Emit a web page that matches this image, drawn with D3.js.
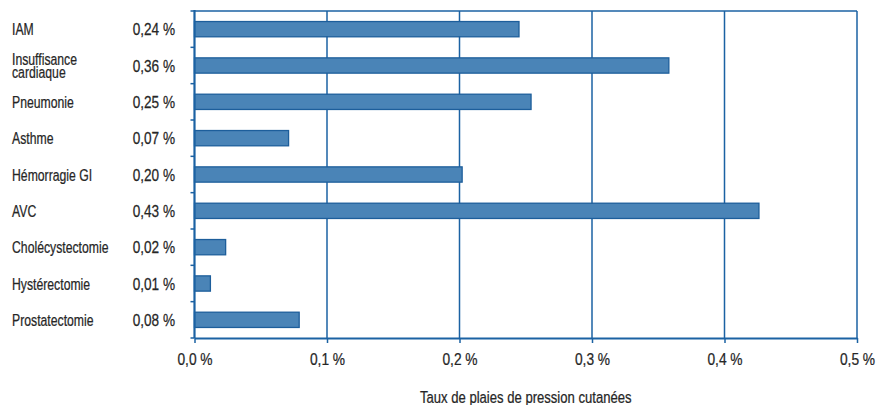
<!DOCTYPE html>
<html>
<head>
<meta charset="utf-8">
<script src="https://cdn.jsdelivr.net/npm/d3@7"></script>
<style>
  html, body { margin: 0; padding: 0; background: #fff; }
  svg text { font-family: "Liberation Sans", Arial, sans-serif; fill: #262626; stroke: #262626; stroke-width: 0.25px; }
</style>
</head>
<body>
<svg id="chart" width="878" height="405"></svg>
<script>
// Pressure-ulcer rates by condition / procedure (%)
const categories = [
  ["IAM"],
  ["Insuffisance", "cardiaque"],
  ["Pneumonie"],
  ["Asthme"],
  ["Hémorragie GI"],
  ["AVC"],
  ["Cholécystectomie"],
  ["Hystérectomie"],
  ["Prostatectomie"]
];
const rates = [0.2449, 0.358, 0.254, 0.071, 0.202, 0.426, 0.0235, 0.012, 0.079];
const tickValues = [0, 0.1, 0.2, 0.3, 0.4, 0.5];
const axisTitle = "Taux de plaies de pression cutanées";

const svg = d3.select("#chart");
const margin = { left: 194.5, right: 21, top: 11, bottom: 67 };
const W = 878, H = 405;
const blue = "#1b62a3";

// horizontally condense text elements around their anchor x
function condense(sel, k) {
  sel.each(function () {
    const t = d3.select(this);
    const ax = +t.attr("x") || 0;
    t.attr("transform", `translate(${ax},0) scale(${k},1) translate(${-ax},0)`);
  });
}

const x = d3.scaleLinear().domain([0, 0.5]).range([margin.left, W - margin.right]);
const y = d3.scaleBand().domain(d3.range(categories.length))
  .range([margin.top, H - margin.bottom]).paddingInner(0.58).paddingOuter(0.29);

const fmt = v => d3.format(".2f")(v).replace(".", ",") + " %";
const fmtTick = v => d3.format(".1f")(v).replace(".", ",") + " %";

// vertical gridlines (including the right edge)
svg.append("g").selectAll("line").data(tickValues.slice(1)).join("line")
  .attr("x1", d => x(d)).attr("x2", d => x(d))
  .attr("y1", margin.top).attr("y2", H - margin.bottom)
  .attr("stroke", blue).attr("stroke-width", 1.5);

// top border
svg.append("line")
  .attr("x1", x(0)).attr("x2", x(0.5))
  .attr("y1", margin.top).attr("y2", margin.top)
  .attr("stroke", blue).attr("stroke-width", 1.5);

// bars
svg.append("g").selectAll("rect").data(rates).join("rect")
  .attr("x", x(0))
  .attr("y", (d, i) => y(i))
  .attr("width", d => x(d) - x(0))
  .attr("height", y.bandwidth())
  .attr("fill", "#4a84b7")
  .attr("stroke", "#1d5e9b")
  .attr("stroke-width", 1.3);

// bottom axis
const xAxis = d3.axisBottom(x).tickValues(tickValues).tickFormat(fmtTick).tickSize(5).tickSizeOuter(0);
const gx = svg.append("g").attr("transform", `translate(0,${H - margin.bottom})`).call(xAxis);
gx.attr("font-family", null).attr("font-size", null);
gx.select(".domain").attr("stroke", blue).attr("stroke-width", 2.2);
gx.selectAll(".tick line").attr("stroke", blue).attr("stroke-width", 1.5);
gx.selectAll(".tick text").attr("font-size", 17).attr("dy", "1.09em").attr("fill", "#262626")
  .call(condense, 0.81);

// left axis line with ticks at band boundaries
const bounds = d3.range(categories.length + 1).map(i => margin.top + (H - margin.bottom - margin.top) * i / categories.length);
svg.append("line")
  .attr("x1", x(0)).attr("x2", x(0))
  .attr("y1", margin.top - 1).attr("y2", H - margin.bottom)
  .attr("stroke", blue).attr("stroke-width", 2.2);
svg.append("g").selectAll("line").data(bounds).join("line")
  .attr("x1", x(0) - 4).attr("x2", x(0))
  .attr("y1", d => d).attr("y2", d => d)
  .attr("stroke", blue).attr("stroke-width", 1.5);

// category labels
const cat = svg.append("g").selectAll("text").data(categories).join("text")
  .attr("x", 12)
  .attr("font-size", 17);
cat.each(function (lines, i) {
  const cy = y(i) + y.bandwidth() / 2;
  const t = d3.select(this);
  if (lines.length === 1) {
    t.append("tspan").attr("x", 12).attr("y", cy + 6.3).text(lines[0]);
  } else {
    lines.forEach((s, k) => {
      t.append("tspan").attr("x", 12).attr("y", cy - 0.8 + k * 13.4).text(s);
    });
  }
});
cat.call(condense, 0.72);

// value labels
svg.append("g").selectAll("text").data(rates).join("text")
  .attr("x", 175)
  .attr("y", (d, i) => y(i) + y.bandwidth() / 2 + 6.3)
  .attr("text-anchor", "end")
  .attr("font-size", 17)
  .text(d => fmt(d))
  .call(condense, 0.8);

// axis title
svg.append("text")
  .attr("x", (x(0) + x(0.5)) / 2)
  .attr("y", 403)
  .attr("text-anchor", "middle")
  .attr("font-size", 17)
  .text(axisTitle)
  .call(condense, 0.77);
</script>
</body>
</html>
